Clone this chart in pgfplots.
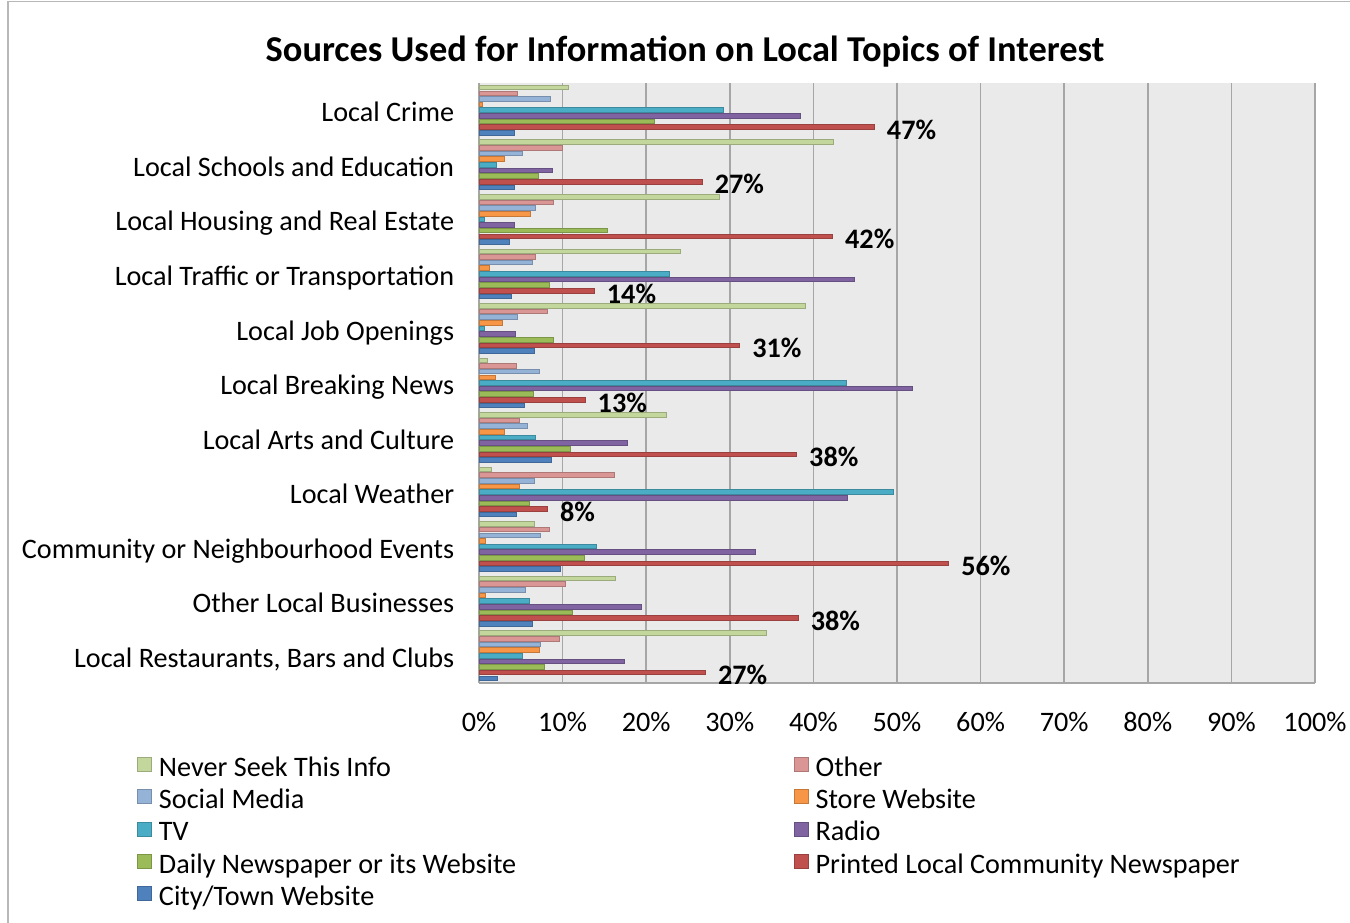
\documentclass[border=0pt]{standalone}
\usepackage{fontspec}
\setmainfont{Carlito}
\usepackage{pgfplots}
\usepackage{pgfplotstable}
\pgfplotsset{compat=1.18}

\definecolor{cnever}{HTML}{C3D69B}
\definecolor{cother}{HTML}{D99694}
\definecolor{csocial}{HTML}{95B3D7}
\definecolor{cstore}{HTML}{F79646}
\definecolor{ctv}{HTML}{4BACC6}
\definecolor{cradio}{HTML}{8064A2}
\definecolor{cdaily}{HTML}{9BBB59}
\definecolor{cprint}{HTML}{C0504D}
\definecolor{ccity}{HTML}{4F81BD}
\definecolor{plotbg}{HTML}{EAEAEA}
\definecolor{gridc}{HTML}{A6A6A6}

% y: 10 = Local Crime (top) ... 0 = Local Restaurants (bottom)
\pgfplotstableread{
y  never other social store tv   radio daily printed city lab
10 10.7  4.6   8.6    0.4   29.3 38.5  21.0  47.3    4.3  47
9  42.4  10.0  5.2    3.0   2.1  8.8   7.1   26.7    4.2  27
8  28.8  8.9   6.7    6.2   0.6  4.2   15.4  42.3    3.6  42
7  24.1  6.7   6.4    1.2   22.8 44.9  8.4   13.8    3.9  14
6  39.1  8.2   4.6    2.8   0.7  4.4   8.9   31.2    6.6  31
5  1.0   4.5   7.2    2.0   44.0 51.8  6.5   12.7    5.4  13
4  22.4  4.8   5.8    3.0   6.8  17.8  11.0  38.0    8.7  38
3  1.5   16.2  6.6    4.9   49.6 44.1  6.1   8.2     4.5  8
2  6.6   8.4   7.4    0.8   14.0 33.1  12.6  56.2    9.8  56
1  16.3  10.3  5.6    0.8   6.1  19.4  11.2  38.2    6.4  38
0  34.4  9.6   7.4    7.2   5.2  17.4  7.8   27.1    2.2  27
}\data

\newcommand{\lbl}{\fontsize{14.1bp}{16bp}\selectfont}

\begin{document}
\begin{tikzpicture}
\path[use as bounding box] (0,0) rectangle (675bp,461.5bp);
\draw[gridc!80, line width=0.75bp] (4bp,0) -- (4bp,460.8bp) -- (675bp,460.8bp);
\node[font=\bfseries\fontsize{18.2bp}{21bp}\selectfont] at (342.5bp,435.5bp)
  {Sources Used for Information on Local Topics of Interest};
\begin{axis}[
  at={(239.5bp,120bp)}, anchor=south west,
  width=418bp, height=300bp, scale only axis,
  xbar, bar width=2.3bp,
  xmin=0, xmax=100, ymin=-0.5, ymax=10.5,
  xtick={0,10,...,100},
  xticklabels={0\%,10\%,20\%,30\%,40\%,50\%,60\%,70\%,80\%,90\%,100\%},
  ytick={0,...,10},
  yticklabels={{Local Restaurants, Bars and Clubs},Other Local Businesses,
    Community or Neighbourhood Events,Local Weather,Local Arts and Culture,
    Local Breaking News,Local Job Openings,Local Traffic or Transportation,
    Local Housing and Real Estate,Local Schools and Education,Local Crime},
  xticklabel style={font=\lbl, yshift=-11.2bp},
  yticklabel style={font=\lbl, anchor=base east, xshift=-8.9bp, yshift=-5.8bp},
  major tick length=0pt, tick style={draw=none},
  axis background/.style={fill=plotbg},
  xmajorgrids, grid style={gridc, line width=0.75bp},
  axis x line*=bottom, axis y line*=left,
  axis line style={gridc, line width=0.75bp, -},
  every axis plot/.append style={line width=0.5bp},
  legend columns=2,
  legend cell align=left,
  legend style={at={(-0.4091,-0.1223)}, anchor=north west, draw=none, fill=none,
    inner sep=0pt, outer sep=0pt, font=\lbl, row sep=2.65bp,
    nodes={inner sep=0pt, text height=10bp, text depth=3.5bp},
    /tikz/every odd column/.append style={column sep=3.5bp},
    /tikz/every even column/.append style={column sep=138.7bp}},
  legend image code/.code={\draw[#1,line width=0.5bp] (0bp,-0.85bp) rectangle (7bp,6.15bp);},
]
\addplot[bar shift=11.3bp, fill=cnever, draw=cnever!80!black] table[x=never,y=y]{\data};
\addplot[bar shift=8.475bp, fill=cother, draw=cother!80!black] table[x=other,y=y]{\data};
\addplot[bar shift=5.65bp, fill=csocial, draw=csocial!80!black] table[x=social,y=y]{\data};
\addplot[bar shift=2.825bp, fill=cstore, draw=cstore!80!black] table[x=store,y=y]{\data};
\addplot[bar shift=0bp, fill=ctv, draw=ctv!80!black] table[x=tv,y=y]{\data};
\addplot[bar shift=-2.825bp, fill=cradio, draw=cradio!80!black] table[x=radio,y=y]{\data};
\addplot[bar shift=-5.65bp, fill=cdaily, draw=cdaily!80!black] table[x=daily,y=y]{\data};
\addplot[bar shift=-8.475bp, fill=cprint, draw=cprint!80!black,
  point meta=explicit symbolic,
  nodes near coords={\pgfplotspointmeta\%},
  every node near coord/.append style={font=\bfseries\lbl, anchor=west,
    xshift=2.7bp, yshift=-1.3bp, black}]
  table[x=printed,y=y,meta=lab]{\data};
\addplot[bar shift=-11.3bp, fill=ccity, draw=ccity!80!black] table[x=city,y=y]{\data};
\legend{Never Seek This Info,Other,Social Media,Store Website,TV,Radio,
  Daily Newspaper or its Website,Printed Local Community Newspaper,City/Town Website}
\end{axis}
\end{tikzpicture}
\end{document}
